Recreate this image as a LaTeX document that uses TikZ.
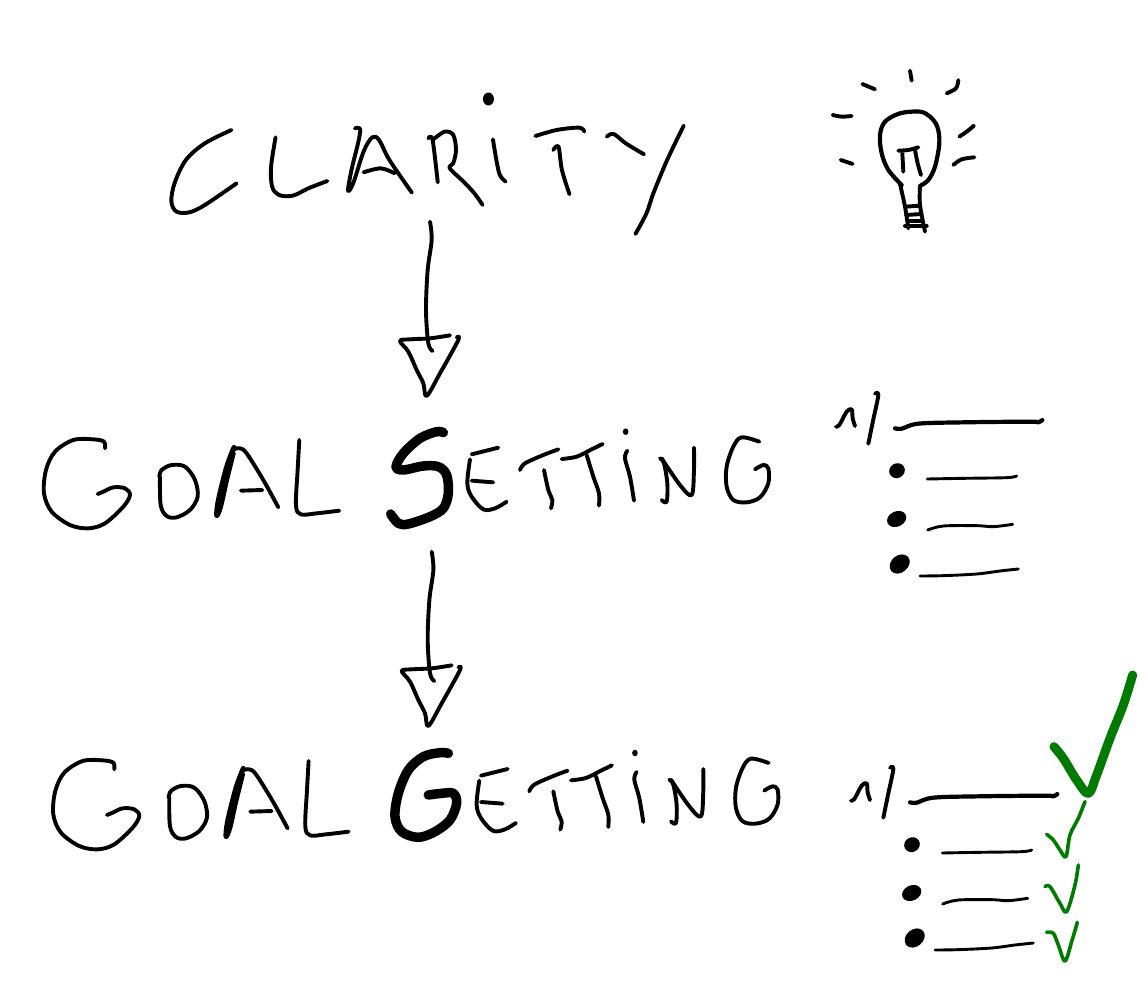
\documentclass[tikz,border=0pt]{standalone}
\definecolor{tickgreen}{HTML}{007A00}
\tikzset{
  pen/.style={line width=3.9pt,line cap=round,line join=round,black},
  thinpen/.style={pen,line width=2.9pt},
  fatpen/.style={pen,line width=9.5pt},
  tickpen/.style={pen,line width=3.6pt,tickgreen},
  bigtick/.style={pen,line width=9pt,tickgreen},
  crop/.style={x=0.3333pt,y=-0.3333pt}
}
\newcommand\stroke[2][pen]{\draw[#1] plot[smooth,tension=0.55] coordinates {#2};}
\newcommand\goalword{%
  \stroke{(225,115)(222,95)(190,88)(130,90)(75,125)(48,180)(42,250)(65,305)(120,345)(175,355)(225,340)(280,290)(300,255)(285,235)(250,232)(220,245)(203,252)}
  \stroke{(388,200)(395,180)(425,165)(465,170)(495,210)(503,260)(480,300)(440,322)(410,318)(392,285)(390,200)}
  \stroke[pen,line width=4.8pt]{(612,112)(590,170)(565,270)(560,317)(572,290)(590,210)(610,130)}
  \stroke{(610,118)(630,115)(650,130)(700,210)(745,292)}
  \stroke{(633,242)(697,240)}
  \stroke{(808,90)(803,180)(798,285)(812,313)(860,310)(928,302)}}
\newcommand\ettingword{%
  \stroke{(275,133)(355,113)}
  \stroke{(270,148)(262,220)(275,260)(310,298)(345,295)(380,275)}
  \stroke{(275,212)(340,217)}
  \stroke{(420,180)(435,160)(490,135)(535,118)}
  \stroke{(492,180)(505,240)(517,270)(513,295)}
  \stroke{(545,147)(590,140)(635,118)(668,102)}
  \stroke{(620,135)(640,200)(657,250)(657,287)}
  \stroke{(742,122)(735,145)(750,200)(762,272)}
  \fill (737,65) ellipse[x radius=2.8pt,y radius=3.3pt];
  \stroke{(840,145)(852,160)(862,220)(860,275)(845,270)}
  \stroke{(845,145)(900,225)(935,255)(942,180)(942,113)}
  \stroke{(1138,95)(1085,82)(1060,110)(1040,170)(1040,230)(1060,270)(1100,277)(1140,262)(1165,220)(1165,175)(1150,165)(1125,178)}}
\newcommand\arrowsketch{%
  \stroke{(150,35)(155,90)(143,180)(138,300)(145,400)(158,423)}
  \stroke{(210,376)(150,385)(90,388)(60,393)(85,425)(110,480)(130,520)(140,558)(180,490)(235,390)(230,382)}}
\newcommand\listsketch{%
  \stroke{(18,80)(28,75)(50,35)(65,28)(68,55)(75,78)}
  \stroke{(135,-19)(145,-15)(130,58)(115,131)}
  \stroke[pen,line width=4.2pt]{(195,85)(215,86)(265,71)(400,67)(600,65)(625,67)(637,60)}
  \fill (201,212) ellipse[x radius=8pt,y radius=7.3pt,rotate=30];
  \fill (200,357) ellipse[x radius=10pt,y radius=7.6pt,rotate=25];
  \fill (209,492) ellipse[x radius=11pt,y radius=8.5pt,rotate=40];
  \stroke[thinpen]{(292,237)(400,235)(530,233)(560,228)}
  \stroke[thinpen]{(293,390)(340,378)(440,377)(490,380)(548,373)}
  \stroke[thinpen]{(270,528)(340,527)(440,522)(510,513)(565,507)}}
\begin{document}
\begin{tikzpicture}[x=1pt,y=-1pt]
\useasboundingbox (0,0) rectangle (1147,999);
\fill[white] (0,0) rectangle (1147,999);
% CLARITY
\begin{scope}[shift={(160,80)},x=0.345pt,y=-0.3333pt]
  \stroke{(207,150)(130,190)(75,240)(42,310)(33,365)(48,395)(85,397)(130,375)(222,310)}
  \stroke{(335,172)(322,260)(325,320)(345,345)(385,347)(430,325)(485,303)}
  \stroke{(565,145)(580,147)(575,185)(555,270)(545,332)(560,310)(590,215)(615,172)(635,180)(665,240)(730,338)}
  \stroke{(590,277)(640,265)(680,280)}
  \stroke{(778,175)(790,180)(805,307)}
  \stroke{(790,180)(825,155)(850,165)(858,210)(850,250)(840,265)(885,310)(915,345)(935,375)}
  \stroke{(965,178)(975,240)(985,285)(1002,305)}
  \fill (952,57) ellipse[x radius=5.5pt,y radius=6.5pt];
  \stroke{(1088,168)(1150,150)(1215,143)(1230,155)}
  \stroke{(1140,210)(1155,200)(1165,270)(1187,343)}
  \stroke{(1295,170)(1315,162)(1350,190)(1403,223)}
  \stroke{(1518,137)(1470,240)(1430,340)(1410,400)(1378,462)}
\end{scope}
% bulb
\begin{scope}[shift={(820,60)},crop]
  \stroke[pen,line width=4.2pt]{(245,375)(205,330)(185,280)(180,225)(195,185)(240,160)(300,155)(330,170)(352,200)(358,250)(345,320)(325,360)(300,378)}
  \stroke{(240,372)(255,440)(265,505)}
  \stroke{(300,378)(300,435)(315,515)}
  \stroke{(258,440)(300,437)}
  \stroke{(258,465)(305,462)}
  \stroke{(270,482)(305,482)}
  \stroke{(255,497)(320,497)}
  \stroke{(235,272)(265,270)(295,262)}
  \stroke{(247,280)(250,335)}
  \stroke{(285,270)(293,310)(303,345)}
  \stroke{(270,32)(275,62)}
  \stroke{(127,72)(165,88)}
  \stroke{(38,165)(65,170)(95,168)}
  \stroke{(62,300)(98,312)}
  \stroke{(415,60)(408,85)(380,100)}
  \stroke{(462,197)(440,215)(418,230)}
  \stroke{(463,292)(425,298)(400,315)}
\end{scope}
% arrows
\begin{scope}[shift={(380,210)},crop]\arrowsketch\end{scope}
\begin{scope}[shift={(381.7,540)},crop]\arrowsketch\end{scope}
% GOAL SETTING
\begin{scope}[shift={(30,410)},crop]\goalword\end{scope}
\begin{scope}[shift={(380,410)},crop]
  \stroke[fatpen]{(190,68)(170,65)(120,85)(70,130)(48,170)(70,180)(130,168)(175,170)(200,195)(205,250)(190,295)(150,320)(85,342)(55,340)(32,312)}
  \ettingword
\end{scope}
% GOAL GETTING
\begin{scope}[shift={(39.3,731)},crop]\goalword\end{scope}
\begin{scope}[shift={(385,740)},crop]
  \stroke[fatpen]{(190,40)(165,38)(115,50)(70,90)(40,160)(30,230)(50,275)(100,292)(150,275)(195,240)(215,190)(205,160)(170,160)(130,165)}
\end{scope}
\begin{scope}[shift={(389.3,731.3)},crop]\ettingword\end{scope}
% lists
\begin{scope}[shift={(830,400)},crop]\listsketch\end{scope}
\begin{scope}[shift={(845,774)},crop]\listsketch\end{scope}
% ticks
\begin{scope}[shift={(840,665)},crop]
  \stroke[bigtick]{(642,245)(670,280)(710,345)(745,385)(770,330)(810,220)(850,120)(878,30)}
  \stroke[tickpen]{(735,410)(715,460)(690,510)(678,575)(660,555)(640,525)(620,508)}
  \stroke[tickpen]{(715,600)(705,660)(680,740)(660,715)(630,665)(615,665)}
  \stroke[tickpen]{(712,772)(695,830)(675,888)(655,840)(640,805)(620,802)}
\end{scope}
\end{tikzpicture}
\end{document}
